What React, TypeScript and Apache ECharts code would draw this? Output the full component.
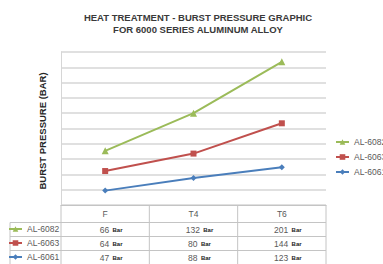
import React, { useEffect, useRef } from 'react';
import * as echarts from 'echarts';

const categories = ['F', 'T4', 'T6'];
const names = ['AL-6082', 'AL-6063', 'AL-6061'];
const al6082 = [66, 132, 201];
const al6063 = [64, 80, 144];
const al6061 = [47, 88, 123];
const unitLabel = 'Bar';
const titleText = 'HEAT TREATMENT - BURST PRESSURE GRAPHIC\nFOR 6000 SERIES ALUMINUM ALLOY';
const yAxisName = 'BURST PRESSURE (BAR)';
const yMax = 500;
const yInterval = 50;

const FONT = '"Liberation Sans", Arial, sans-serif';
const GREEN = '#9BBB59';
const RED = '#C0504D';
const BLUE = '#4A7EBB';
const GRID_C = '#d6d6d6';
const TABLE_C = '#c4c4c4';
const TEXT_C = '#595959';

export default function App() {
  const ref = useRef<HTMLDivElement>(null);
  useEffect(() => {
    if (!ref.current) return;
    const chart = echarts.init(ref.current, null, { renderer: 'svg' });
    const gridL = 61, gridR = 326, gridT = 52, gridB = 205;
    const legendText = { fontFamily: FONT, fontSize: 8.5, color: TEXT_C, lineHeight: 10 };
    chart.setOption({
      animation: false,
      backgroundColor: '#ffffff',
      title: {
        text: titleText,
        left: 193,
        top: 6,
        textAlign: 'center',
        textStyle: { fontFamily: FONT, fontSize: 9.5, fontWeight: 'bold', color: '#3a3a3a', lineHeight: 12 },
      },
      legend: [
        {
          data: names,
          orient: 'vertical',
          left: 335,
          top: 137,
          itemWidth: 13,
          itemHeight: 7,
          itemGap: 5,
          padding: 0,
          textStyle: legendText,
        },
        {
          data: names,
          orient: 'vertical',
          left: 8,
          top: 224,
          itemWidth: 13,
          itemHeight: 7,
          itemGap: 4,
          padding: 0,
          textStyle: legendText,
        },
      ],
      grid: { left: gridL, right: 383 - gridR, top: gridT, bottom: 264 - gridB },
      xAxis: {
        type: 'category',
        data: categories,
        boundaryGap: true,
        axisLine: { show: true, lineStyle: { color: TABLE_C, width: 1 } },
        axisTick: { show: false },
        axisLabel: { show: true, margin: 4, fontFamily: FONT, fontSize: 8.5, color: TEXT_C },
      },
      yAxis: {
        type: 'value',
        min: 0,
        max: yMax,
        interval: yInterval,
        name: yAxisName,
        nameLocation: 'middle',
        nameRotate: 90,
        nameGap: 14,
        nameTextStyle: { fontFamily: FONT, fontSize: 9.5, fontWeight: 'bold', color: '#262626', padding: [0, 0, 0, -5] },
        axisLine: { show: true, lineStyle: { color: GRID_C, width: 1 } },
        axisTick: { show: false },
        axisLabel: { show: false },
        splitLine: { show: true, lineStyle: { color: GRID_C, width: 1.5 } },
      },
      series: [
        {
          name: 'AL-6061', type: 'line', stack: 'total', data: al6061,
          symbol: 'diamond', symbolSize: 6, color: BLUE,
          lineStyle: { width: 2, color: BLUE }, itemStyle: { color: BLUE },
        },
        {
          name: 'AL-6063', type: 'line', stack: 'total', data: al6063,
          symbol: 'rect', symbolSize: 6, color: RED,
          lineStyle: { width: 2, color: RED }, itemStyle: { color: RED },
        },
        {
          name: 'AL-6082', type: 'line', stack: 'total', data: al6082,
          symbol: 'triangle', symbolSize: 7, color: GREEN,
          lineStyle: { width: 2, color: GREEN }, itemStyle: { color: GREEN },
        },
      ],
    });

    // data table under the plot
    const rows = [al6082, al6063, al6061];
    const xs = categories.map((c) => chart.convertToPixel({ xAxisIndex: 0 }, c) as number);
    const half = (xs[1] - xs[0]) / 2;
    const headerTop = gridB;
    const headerH = 17.5;
    const rowH = 14;
    const tableLeft = 10;
    const tableRight = xs[xs.length - 1] + half;
    const els: any[] = [];
    const line = (x1: number, y1: number, x2: number, y2: number) =>
      els.push({ type: 'line', silent: true, shape: { x1, y1, x2, y2 }, style: { stroke: TABLE_C, lineWidth: 1 } });
    for (let r = 0; r <= rows.length; r++) {
      const y = headerTop + headerH + r * rowH;
      line(tableLeft, y, tableRight, y);
    }
    const bottom = headerTop + headerH + rows.length * rowH;
    line(tableLeft, headerTop + headerH, tableLeft, bottom);
    line(xs[0] - half, headerTop, xs[0] - half, bottom);
    xs.forEach((x) => line(x + half, headerTop, x + half, bottom));
    rows.forEach((vals, r) => {
      const cy = headerTop + headerH + r * rowH + rowH / 2;
      vals.forEach((v, i) => {
        els.push({
          type: 'text',
          silent: true,
          x: xs[i] + 6,
          y: cy,
          style: {
            text: `{v|${v}} {u|${unitLabel}}`,
            align: 'center',
            verticalAlign: 'middle',
            rich: {
              v: { fontFamily: FONT, fontSize: 8.5, fill: TEXT_C },
              u: { fontFamily: FONT, fontSize: 6, fontWeight: 'bold', fill: '#222' },
            },
          },
        });
      });
    });
    chart.setOption({ graphic: els });
    return () => chart.dispose();
  }, []);
  return <div ref={ref} style={{ position: 'fixed', left: 0, top: 0, width: 383, height: 264 }} />;
}
